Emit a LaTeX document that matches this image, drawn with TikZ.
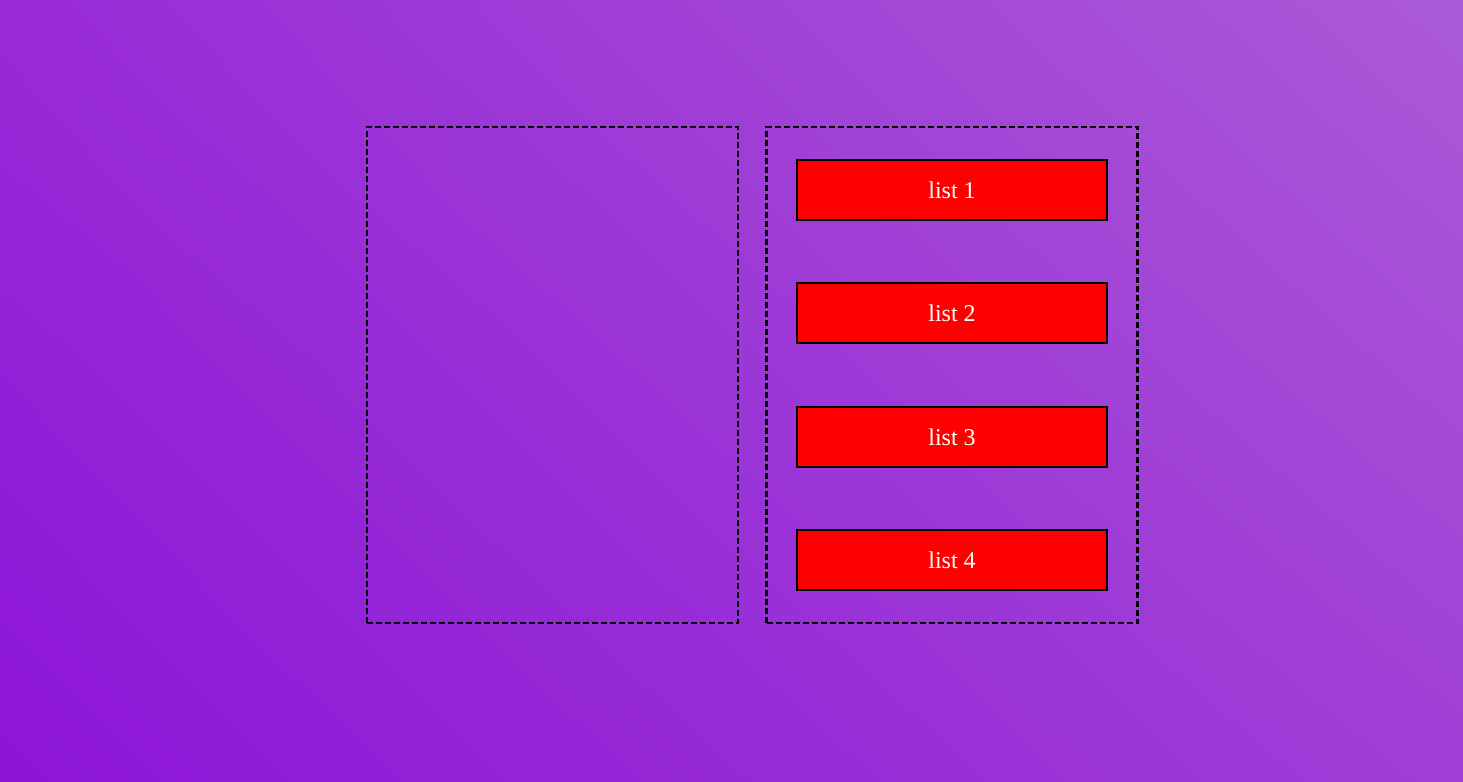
\documentclass[tikz,border=0pt]{standalone}
\usepackage{fontspec}
\setmainfont{Liberation Serif}
\usetikzlibrary{shadings}
\definecolor{bgdark}{RGB}{140,20,215}
\definecolor{bglight}{RGB}{170,90,215}
\definecolor{bgmidtop}{RGB}{152,42,215}
\definecolor{bgmidbottom}{RGB}{160,62,215}
\tikzset{
	container/.style = {draw = black, line width = 2.4pt, dash pattern = on 6pt off 3pt, minimum width = 371pt, minimum height = 496pt, inner sep = 0pt},
	listbox/.style = {draw = black, line width = 2pt, fill = red, text = white, font = \fontsize{24pt}{28pt}\selectfont, minimum width = 310pt, minimum height = 60pt, inner sep = 0pt}
}
\begin{document}
\begin{tikzpicture}[x = 1pt, y = 1pt]
				% background
				\useasboundingbox (0, 0) rectangle (1463, 781);
				\shade[lower left = bgdark, upper right = bglight, upper left = bgmidtop, lower right = bgmidbottom] (0, 0) rectangle (1463, 781);
				
				% containers
				\node[container] (leftpanel) at (552.5, 406) {};
				\node[container] (rightpanel) at (952, 406) {};
				
				% list items
				\node[listbox] (listone) at (952, 591) {list 1};
				\node[listbox] (listtwo) at (952, 467.5) {list 2};
				\node[listbox] (listthree) at (952, 344) {list 3};
				\node[listbox] (listfour) at (952, 220.5) {list 4};
				
			\end{tikzpicture}
\end{document}
